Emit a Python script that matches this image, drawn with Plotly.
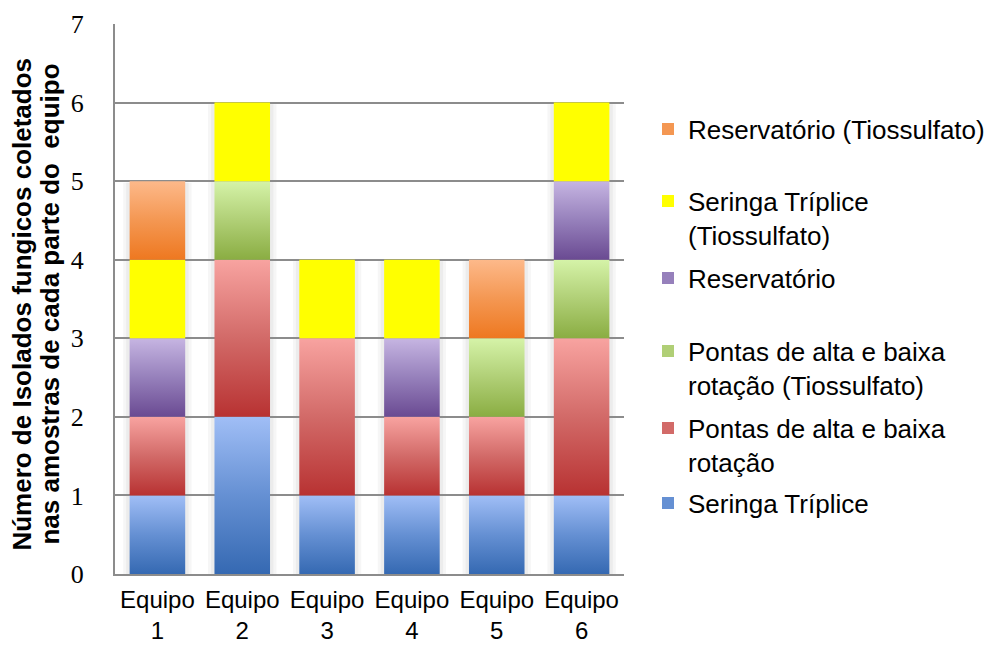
import plotly.graph_objects as go

# Equipment units (x axis tick labels)
categories = ["Equipo<br>1", "Equipo<br>2", "Equipo<br>3", "Equipo<br>4", "Equipo<br>5", "Equipo<br>6"]

# Fungal isolates per sampled part, stacked bottom to top
seringa = [1, 2, 1, 1, 1, 1]
pontas = [1, 2, 2, 1, 1, 2]
pontas_tio = [0, 1, 0, 0, 1, 1]
reservatorio = [1, 0, 0, 1, 0, 1]
seringa_tio = [1, 1, 1, 1, 0, 1]
reservatorio_tio = [1, 0, 0, 0, 1, 0]

series_names = [
    "Seringa Tríplice",
    "Pontas de alta e baixa<br>rotação",
    "Pontas de alta e baixa<br>rotação (Tiossulfato)",
    "Reservatório",
    "Seringa Tríplice<br>(Tiossulfato)",
    "Reservatório (Tiossulfato)",
]
series_values = [seringa, pontas, pontas_tio, reservatorio, seringa_tio, reservatorio_tio]

# (bottom, middle, top) colours of each vertical gradient
series_colors = [
    ("#3569b2", "#6590d3", "#a0bef6"),
    ("#b83232", "#d26a68", "#f8a3a0"),
    ("#8aad42", "#b0cf76", "#d5f3a8"),
    ("#6a4a92", "#9680bb", "#c6b5e2"),
    ("#ffff00", "#ffff00", "#ffff00"),
    ("#ee7820", "#f49752", "#fdb98a"),
]
# legend placement: pixel row of each entry's centre, counted from the top
legend_rows = [503, 445, 368, 278, 218, 129]

FIG_W, FIG_H = 991, 645
BAR_W = 0.655
x_pos = list(range(len(categories)))

fig = go.Figure()
shapes = []

# soft halo behind each full bar
totals = [sum(v[i] for v in series_values) for i in x_pos]
for i, tot in zip(x_pos, totals):
    for pad, col in ((0.075, "#f6f6f6"), (0.04, "#ececec")):
        shapes.append(dict(type="rect", xref="x", yref="y", layer="below",
                           x0=i - BAR_W / 2 - pad, x1=i + BAR_W / 2 + pad,
                           y0=0, y1=tot - 0.02, line_width=0, fillcolor=col))

base = [0.0] * len(categories)
for s, (name, vals, cols) in enumerate(zip(series_names, series_values, series_colors)):
    for i, v in enumerate(vals):
        if v <= 0:
            continue
        y0, y1 = base[i], base[i] + v
        x0, x1 = i - BAR_W / 2, i + BAR_W / 2
        kw = dict(x=[x0, x1, x1, x0, x0], y=[y0, y0, y1, y1, y0],
                  mode="lines", line=dict(width=0), fill="toself",
                  showlegend=False, hoverinfo="skip")
        if cols[0] == cols[2]:
            kw["fillcolor"] = cols[0]
        else:
            kw["fillgradient"] = dict(type="vertical", start=y0, stop=y1,
                                      colorscale=[[0, cols[0]], [0.5, cols[1]], [1, cols[2]]])
        fig.add_trace(go.Scatter(**kw))
        base[i] = y1

# legend swatches, one legend per entry so each sits at its own height
for s, (name, cols) in enumerate(zip(series_names, series_colors)):
    lg = "legend" if s == 0 else f"legend{s + 1}"
    fig.add_trace(go.Bar(x=[None], y=[None], name=name, marker_color=cols[1],
                         marker_line_width=0, legend=lg, showlegend=True))

legend_common = dict(xref="container", yref="container", x=648 / FIG_W,
                     xanchor="left", yanchor="middle", valign="top",
                     bgcolor="rgba(0,0,0,0)",
                     font=dict(family="Liberation Sans, Arial", size=26, color="#000000"))
layout_legends = {}
for s, row in enumerate(legend_rows):
    key = "legend" if s == 0 else f"legend{s + 1}"
    layout_legends[key] = dict(y=(FIG_H - row) / FIG_H, **legend_common)

title_font = dict(family="Liberation Sans, Arial", size=26, color="#000000")
annotations = [
    dict(text="<b>Número de Isolados fungicos coletados</b>", textangle=-90,
         xref="paper", yref="paper", x=-0.1845, y=0.49, xanchor="center", yanchor="middle",
         showarrow=False, font=title_font),
    dict(text="<b>nas amostras de cada parte do\u00a0 equipo</b>", textangle=-90,
         xref="paper", yref="paper", x=-0.1295, y=0.49, xanchor="center", yanchor="middle",
         showarrow=False, font=title_font),
]

fig.update_layout(
    width=FIG_W, height=FIG_H,
    margin=dict(l=115, r=367, t=24, b=71),
    paper_bgcolor="white", plot_bgcolor="white",
    shapes=shapes, annotations=annotations,
    xaxis=dict(range=[-0.5, 5.5], tickvals=x_pos, ticktext=categories, automargin=False,
               showgrid=False, zeroline=False, showline=True, linecolor="#8c8c8c", linewidth=2,
               ticks="", ticklabelstandoff=3,
               tickfont=dict(family="Liberation Sans, Arial", size=24, color="#000000")),
    yaxis=dict(range=[0, 7], dtick=1, showgrid=True, gridcolor="#8c8c8c", gridwidth=2,
               automargin=False,
               zeroline=False, showline=True, linecolor="#8c8c8c", linewidth=2,
               ticks="", ticklabelstandoff=24,
               tickfont=dict(family="Liberation Serif, Times New Roman", size=26, color="#000000")),
    **layout_legends,
)

fig.write_html("out.html")
